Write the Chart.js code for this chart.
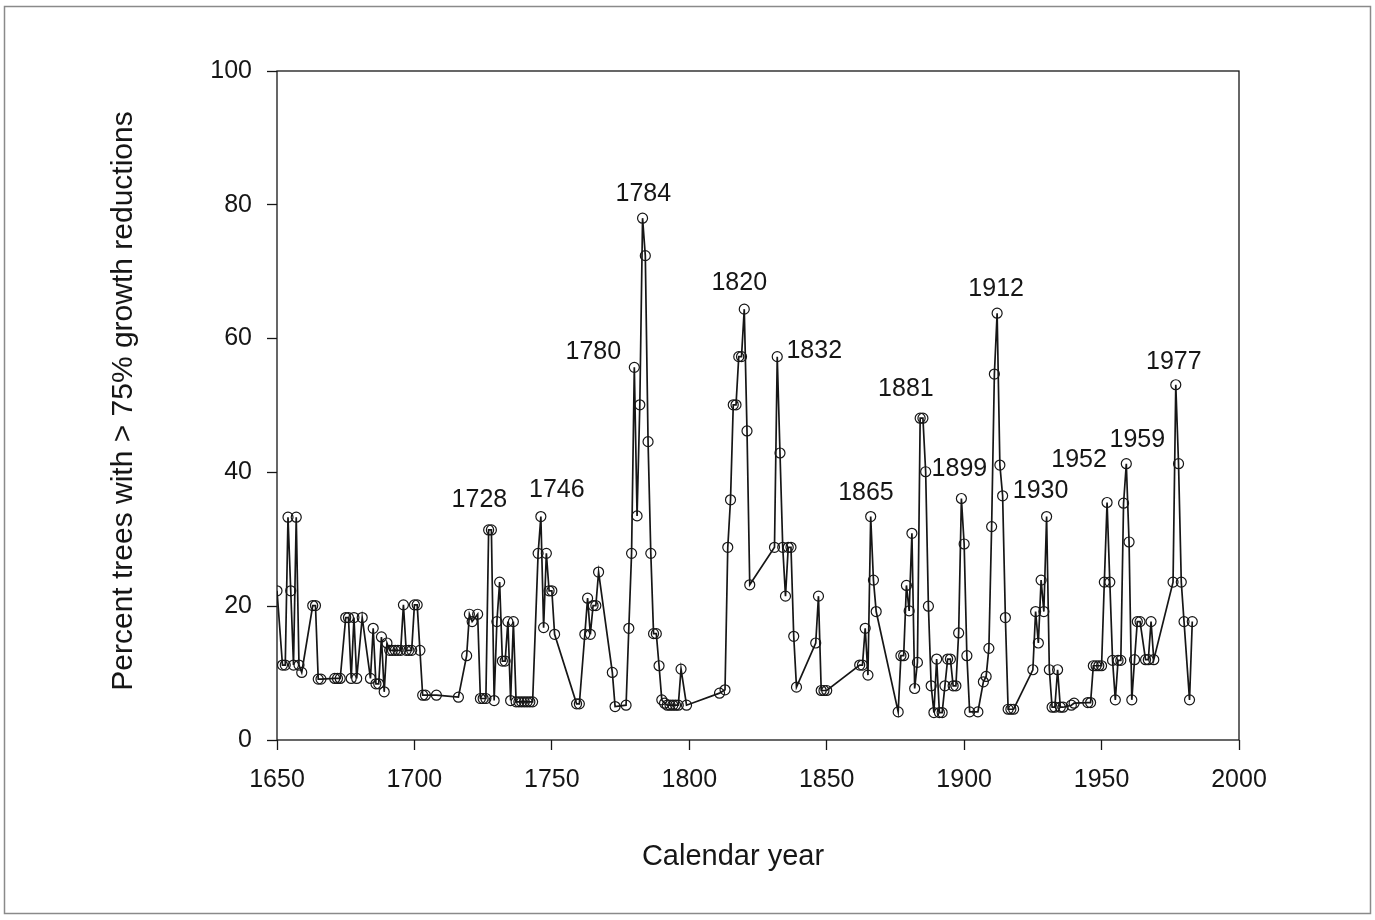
<!DOCTYPE html>
<html>
<head>
<meta charset="utf-8">
<title>Growth reductions by calendar year</title>
<script src="https://cdn.jsdelivr.net/npm/chart.js@4.4.1/dist/chart.umd.min.js"></script>
<style>
  html, body { margin: 0; padding: 0; background: #fff; }
  #wrap { width: 1375px; height: 920px; }
</style>
</head>
<body>
<div id="wrap"><canvas id="chart" width="1375" height="920"></canvas></div>
<script>
// calendar years with recorded reductions
const years = [
  1650, 1652, 1653, 1654, 1655, 1656, 1657, 1658, 1659, 1663, 1664, 1665, 1666,
  1671, 1672, 1673, 1675, 1676, 1677, 1678, 1679, 1681, 1684, 1685, 1686, 1687,
  1688, 1689, 1690, 1691, 1692, 1693, 1694, 1695, 1696, 1697, 1698, 1699, 1700,
  1701, 1702, 1703, 1704, 1708, 1716, 1719, 1720, 1721, 1723, 1724, 1725, 1726,
  1727, 1728, 1729, 1730, 1731, 1732, 1733, 1734, 1735, 1736, 1737, 1738, 1739,
  1740, 1741, 1742, 1743, 1745, 1746, 1747, 1748, 1749, 1750, 1751, 1759, 1760,
  1762, 1763, 1764, 1765, 1766, 1767, 1772, 1773, 1777, 1778, 1779, 1780, 1781,
  1782, 1783, 1784, 1785, 1786, 1787, 1788, 1789, 1790, 1791, 1792, 1793, 1794,
  1795, 1796, 1797, 1799, 1811, 1813, 1814, 1815, 1816, 1817, 1818, 1819, 1820,
  1821, 1822, 1831, 1832, 1833, 1834, 1835, 1836, 1837, 1838, 1839, 1846, 1847,
  1848, 1849, 1850, 1862, 1863, 1864, 1865, 1866, 1867, 1868, 1876, 1877, 1878,
  1879, 1880, 1881, 1882, 1883, 1884, 1885, 1886, 1887, 1888, 1889, 1890, 1891,
  1892, 1893, 1894, 1895, 1896, 1897, 1898, 1899, 1900, 1901, 1902, 1905, 1907,
  1908, 1909, 1910, 1911, 1912, 1913, 1914, 1915, 1916, 1917, 1918, 1925, 1926,
  1927, 1928, 1929, 1930, 1931, 1932, 1933, 1934, 1935, 1936, 1939, 1940, 1945,
  1946, 1947, 1948, 1949, 1950, 1951, 1952, 1953, 1954, 1955, 1956, 1957, 1958,
  1959, 1960, 1961, 1962, 1963, 1964, 1966, 1967, 1968, 1969, 1976, 1977, 1978,
  1979, 1980, 1982, 1983
];

// percent of trees with > 75% growth reduction in each year
const percentTrees = [
  22.3, 11.2, 11.2, 33.3, 22.3, 11.2, 33.3, 11.2, 10.1, 20.1, 20.1, 9.1, 9.1,
  9.2, 9.2, 9.2, 18.3, 18.3, 9.2, 18.3, 9.2, 18.3, 9.2, 16.7, 8.4, 8.4,
  15.4, 7.2, 14.5, 13.4, 13.4, 13.4, 13.4, 13.4, 20.2, 13.4, 13.4, 13.4, 20.2,
  20.2, 13.4, 6.7, 6.7, 6.7, 6.4, 12.6, 18.8, 17.7, 18.8, 6.2, 6.2, 6.2,
  31.4, 31.4, 5.9, 17.7, 23.6, 11.8, 11.8, 17.7, 5.9, 17.7, 5.7, 5.7, 5.7,
  5.7, 5.7, 5.7, 5.7, 27.9, 33.4, 16.8, 27.9, 22.3, 22.3, 15.8, 5.4, 5.4,
  15.8, 21.2, 15.8, 20.1, 20.1, 25.1, 10.1, 5.0, 5.2, 16.7, 27.9, 55.7, 33.5,
  50.1, 78.0, 72.4, 44.6, 27.9, 15.9, 15.9, 11.1, 6.0, 5.5, 5.2, 5.2, 5.2,
  5.2, 5.2, 10.6, 5.2, 7.0, 7.5, 28.8, 35.9, 50.1, 50.1, 57.3, 57.3, 64.4,
  46.2, 23.2, 28.8, 57.3, 42.9, 28.8, 21.5, 28.8, 28.8, 15.5, 7.9, 14.5, 21.5,
  7.4, 7.4, 7.4, 11.2, 11.2, 16.7, 9.7, 33.4, 23.9, 19.2, 4.2, 12.6, 12.6,
  23.1, 19.3, 30.9, 7.7, 11.6, 48.1, 48.1, 40.1, 20.0, 8.1, 4.1, 12.1, 4.1,
  4.1, 8.1, 12.1, 12.1, 8.1, 8.1, 16.0, 36.1, 29.3, 12.6, 4.2, 4.2, 8.7,
  9.5, 13.7, 31.9, 54.7, 63.8, 41.1, 36.5, 18.3, 4.6, 4.6, 4.6, 10.5, 19.2,
  14.5, 23.9, 19.2, 33.4, 10.5, 4.9, 4.9, 10.5, 4.9, 4.9, 5.2, 5.5, 5.6,
  5.6, 11.1, 11.1, 11.1, 11.1, 23.6, 35.5, 23.6, 11.9, 6.0, 11.9, 11.9, 35.4,
  41.3, 29.6, 6.0, 12.0, 17.7, 17.7, 12.0, 12.0, 17.7, 12.0, 23.6, 53.1, 41.3,
  23.6, 17.7, 6.0, 17.7
];

// axis ranges and tick steps
const xRange = [1650, 2000];
const xStep = 50;
const yRange = [0, 100];
const yStep = 20;

const xTitle = 'Calendar year';
const yTitle = 'Percent trees with > 75% growth reductions';

// years marked with a text label
const labelYears = [1728, 1746, 1780, 1784, 1820, 1832, 1865, 1881, 1899, 1912, 1930, 1952, 1959, 1977];
// where each label sits relative to its point (px)
const labelShift = [
  [-12, -30], [16, -26], [-41, -15], [-2, -62], [-5, -26], [37, -6], [-2, -182],
  [-6, -144], [-2, -29], [-1, -24], [-6, -25], [-28, -42], [11, -24], [-2, -23]
];

const FONT = '"Liberation Sans", Arial, Helvetica, sans-serif';
const INK = '#161616';

// page background, outer frame, closed axes box and the two axis titles
const framePlugin = {
  id: 'frame',
  beforeDraw(chart) {
    const ctx = chart.ctx;
    ctx.save();
    ctx.fillStyle = '#fff';
    ctx.fillRect(0, 0, chart.width, chart.height);
    ctx.strokeStyle = '#8a8a8a';
    ctx.lineWidth = 1.5;
    ctx.strokeRect(4.5, 6.5, 1366, 907);
    ctx.restore();
  },
  afterDraw(chart) {
    const a = chart.chartArea;
    const ctx = chart.ctx;
    ctx.save();
    ctx.strokeStyle = INK;
    ctx.lineWidth = 1.3;
    ctx.strokeRect(a.left, a.top, a.right - a.left, a.bottom - a.top);

    ctx.fillStyle = INK;
    ctx.font = '29px ' + FONT;
    ctx.textAlign = 'center';
    ctx.textBaseline = 'middle';
    ctx.fillText(xTitle, 733, 857);

    ctx.font = '30px ' + FONT;
    ctx.translate(124, 401);
    ctx.rotate(-Math.PI / 2);
    ctx.fillText(yTitle, 0, 0);
    ctx.restore();
  }
};

// year labels over the outbreak peaks
const yearLabels = {
  id: 'yearLabels',
  afterDatasetsDraw(chart) {
    const pts = chart.getDatasetMeta(0).data;
    const ctx = chart.ctx;
    ctx.save();
    ctx.font = '25px ' + FONT;
    ctx.fillStyle = INK;
    ctx.textAlign = 'center';
    ctx.textBaseline = 'middle';
    labelYears.forEach((yr, i) => {
      const idx = years.indexOf(yr);
      if (idx < 0) return;
      const p = pts[idx];
      ctx.fillText(String(yr), p.x + labelShift[i][0], p.y + labelShift[i][1]);
    });
    ctx.restore();
  }
};

new Chart(document.getElementById('chart'), {
  type: 'line',
  data: {
    datasets: [{
      data: years.map((yr, i) => ({ x: yr, y: percentTrees[i] })),
      borderColor: INK,
      borderWidth: 1.7,
      tension: 0,
      pointRadius: 5,
      pointBorderWidth: 1.2,
      pointBorderColor: INK,
      pointBackgroundColor: 'rgba(0,0,0,0)',
      fill: false
    }]
  },
  options: {
    responsive: false,
    animation: false,
    devicePixelRatio: 1,
    layout: { padding: { left: 0, top: 71, right: 136, bottom: 0 } },
    plugins: {
      legend: { display: false },
      tooltip: { enabled: false }
    },
    scales: {
      x: {
        type: 'linear',
        min: xRange[0],
        max: xRange[1],
        afterFit(scale) { scale.height = 180; },
        border: { display: false },
        grid: { drawOnChartArea: false, drawTicks: true, tickLength: 10, tickWidth: 1.3, color: INK },
        ticks: {
          stepSize: xStep,
          padding: 15,
          color: INK,
          font: { family: FONT, size: 25 },
          maxRotation: 0,
          callback: v => String(v)
        }
      },
      y: {
        min: yRange[0],
        max: yRange[1],
        afterFit(scale) { scale.width = 277; },
        border: { display: false },
        grid: { drawOnChartArea: false, drawTicks: true, tickLength: 10, tickWidth: 1.3, color: INK },
        ticks: {
          stepSize: yStep,
          padding: 15,
          color: INK,
          font: { family: FONT, size: 25 },
          callback: v => String(v)
        }
      }
    }
  },
  plugins: [framePlugin, yearLabels]
});
</script>
</body>
</html>
